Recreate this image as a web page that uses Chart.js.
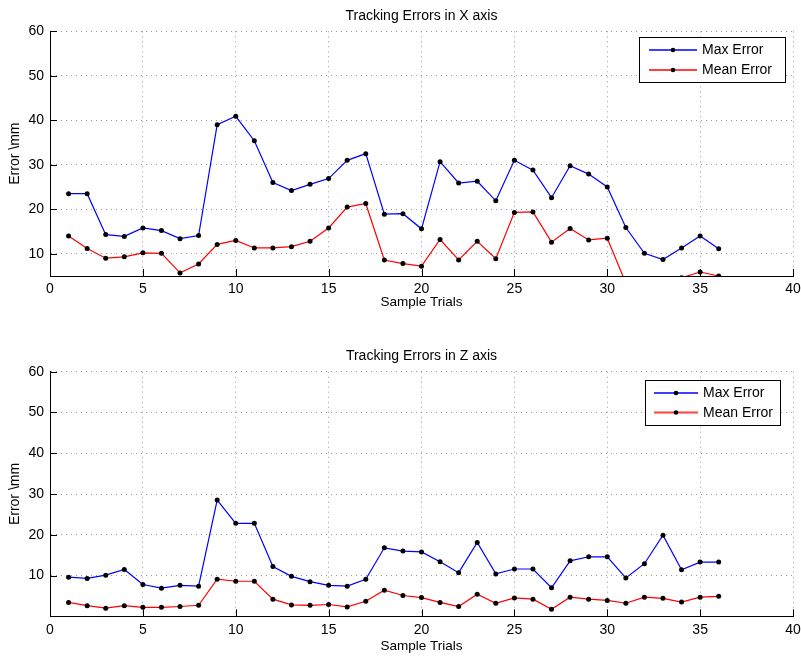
<!DOCTYPE html>
<html>
<head>
<meta charset="utf-8">
<script src="https://cdn.jsdelivr.net/npm/chart.js@4/dist/chart.umd.min.js"></script>
<style>
  html, body { margin: 0; padding: 0; background: #fff; }
  canvas { display: block; }
</style>
</head>
<body>
<canvas id="chart-x" width="801" height="328"></canvas>
<canvas id="chart-z" width="801" height="328"></canvas>
<script>
const trials = [1, 2, 3, 4, 5, 6, 7, 8, 9, 10, 11, 12, 13, 14, 15, 16, 17, 18,
  19, 20, 21, 22, 23, 24, 25, 26, 27, 28, 29, 30, 31, 32, 33, 34, 35, 36];

const maxErrX = [23.5, 23.5, 14.3, 13.9, 15.8, 15.2, 13.4, 14.1, 39.0, 40.9, 35.4, 26.0,
  24.2, 25.6, 26.9, 31.0, 32.5, 18.9, 19.0, 15.6, 30.7, 25.9, 26.3, 21.9,
  31.0, 28.8, 22.6, 29.8, 27.9, 25.0, 15.9, 10.1, 8.7, 11.3, 14.0, 11.1];
const meanErrX = [14.0, 11.2, 9.0, 9.3, 10.2, 10.1, 5.7, 7.7, 12.1, 13.0, 11.3, 11.3,
  11.6, 12.8, 15.8, 20.5, 21.3, 8.6, 7.8, 7.2, 13.2, 8.6, 12.8, 8.9,
  19.3, 19.4, 12.6, 15.7, 13.1, 13.5, 3.4, 3.0, 2.9, 4.6, 5.9, 5.0];

const maxErrZ = [9.6, 9.3, 10.1, 11.5, 7.8, 6.9, 7.6, 7.4, 28.5, 22.8, 22.8, 12.2,
  9.8, 8.5, 7.6, 7.4, 9.1, 16.8, 16.0, 15.8, 13.4, 10.7, 18.1, 10.4,
  11.6, 11.6, 7.0, 13.6, 14.6, 14.6, 9.4, 12.9, 19.9, 11.4, 13.3, 13.3];
const meanErrZ = [3.4, 2.6, 2.0, 2.6, 2.2, 2.2, 2.4, 2.7, 9.1, 8.6, 8.6, 4.2,
  2.8, 2.7, 2.9, 2.3, 3.7, 6.4, 5.1, 4.6, 3.4, 2.4, 5.4, 3.2,
  4.5, 4.2, 1.7, 4.7, 4.2, 3.9, 3.2, 4.7, 4.4, 3.5, 4.7, 4.9];

const seriesNames = ['Max Error', 'Mean Error'];
const seriesColors = ['#0000ff', '#ff0000'];
const xTicks = [0, 5, 10, 15, 20, 25, 30, 35, 40];
const yTicks = [10, 20, 30, 40, 50, 60];

Chart.defaults.font.family = '"Liberation Sans", Arial, Helvetica, sans-serif';
Chart.defaults.color = '#000';

const points = (ys) => trials.map((t, i) => ({ x: t, y: ys[i] }));

// inward tick marks on the left and bottom axes, like the original figure
const inwardTicks = {
  id: 'inwardTicks',
  afterDraw(chart) {
    const { ctx, chartArea: a, scales: { x, y } } = chart;
    ctx.save();
    ctx.strokeStyle = '#000';
    ctx.lineWidth = 1;
    ctx.beginPath();
    x.ticks.forEach(t => {
      const px = Math.round(x.getPixelForValue(t.value)) + 0.5;
      ctx.moveTo(px, a.bottom);
      ctx.lineTo(px, a.bottom - 7);
    });
    y.ticks.forEach(t => {
      const py = Math.round(y.getPixelForValue(t.value)) + 0.5;
      ctx.moveTo(a.left, py);
      ctx.lineTo(a.left + 7, py);
    });
    ctx.stroke();
    ctx.restore();
  },
};

// boxed legend with line + marker samples
const boxLegend = {
  id: 'boxLegend',
  afterDraw(chart, args, o) {
    const { ctx } = chart;
    ctx.save();
    ctx.fillStyle = '#fff';
    ctx.fillRect(o.x, o.y, o.w, o.h);
    ctx.strokeStyle = '#000';
    ctx.lineWidth = 1;
    ctx.strokeRect(Math.round(o.x) + 0.5, Math.round(o.y) + 0.5, Math.round(o.w), Math.round(o.h));
    ctx.font = '14px "Liberation Sans", Arial, sans-serif';
    ctx.textBaseline = 'middle';
    chart.data.datasets.forEach((ds, i) => {
      const ry = o.y + o.row0 + i * o.rowGap;
      ctx.strokeStyle = ds.borderColor;
      ctx.globalAlpha = 0.75;
      ctx.lineWidth = 2;
      ctx.beginPath();
      ctx.moveTo(o.lineFrom, ry);
      ctx.lineTo(o.lineTo, ry);
      ctx.stroke();
      ctx.globalAlpha = 1;
      ctx.fillStyle = '#000';
      ctx.beginPath();
      ctx.arc((o.lineFrom + o.lineTo) / 2, ry, 2.3, 0, Math.PI * 2);
      ctx.fill();
      ctx.fillText(ds.label, o.textX, ry + 0.5);
    });
    ctx.restore();
  },
};

function makeChart(id, title, maxData, meanData, yMin, cfg) {
  const grid = {
    lineWidth: 1,
    drawTicks: false,
  };
  return new Chart(document.getElementById(id), {
    type: 'line',
    data: {
      datasets: [
        { label: seriesNames[0], data: points(maxData), borderColor: seriesColors[0] },
        { label: seriesNames[1], data: points(meanData), borderColor: seriesColors[1] },
      ].map(ds => Object.assign(ds, {
        borderWidth: 1.2,
        pointRadius: 2.5,
        pointBorderWidth: 0,
        pointBackgroundColor: '#000',
        pointBorderColor: '#000',
        tension: 0,
        fill: false,
      })),
    },
    options: {
      responsive: false,
      animation: false,
      events: [],
      layout: { padding: { left: 0, right: 0, top: 0, bottom: 0 } },
      plugins: {
        legend: { display: false },
        tooltip: { enabled: false },
        title: {
          display: true,
          fullSize: false,
          text: title,
          font: { size: 14, weight: 'normal' },
          color: '#000',
          padding: { top: cfg.titleTop, bottom: cfg.titleBottom },
        },
        boxLegend: cfg.legend,
      },
      scales: {
        x: {
          type: 'linear',
          min: 0,
          max: 40,
          afterBuildTicks: s => { s.ticks = xTicks.map(v => ({ value: v })); },
          afterFit: s => { s.height = cfg.xHeight; s.paddingRight = 8; },
          ticks: { font: { size: 14 }, padding: 5, color: '#000', maxRotation: 0 },
          grid: Object.assign({}, grid, {
            color: c => (c.tick && c.tick.value === 0 ? 'rgba(0,0,0,0)' : '#9a9a9a'),
          }),
          border: { display: true, color: '#000', width: 1, dash: [1, 4] },
          title: {
            display: true,
            text: 'Sample Trials',
            font: { size: 13.5 },
            color: '#000',
            padding: { top: 0, bottom: cfg.xTitlePad },
          },
        },
        y: {
          type: 'linear',
          min: yMin,
          max: 60,
          afterBuildTicks: s => { s.ticks = yTicks.map(v => ({ value: v })); },
          afterFit: s => { s.width = 50; },
          ticks: { font: { size: 14 }, padding: 6, color: '#000' },
          grid: Object.assign({}, grid, {
            color: c => (c.tick && c.tick.value === yMin ? 'rgba(0,0,0,0)' : '#9a9a9a'),
          }),
          border: { display: true, color: '#000', width: 1, dash: [1, 4] },
          title: {
            display: true,
            text: 'Error \\mm',
            font: { size: 14 },
            color: '#000',
            padding: { top: 7, bottom: 0 },
          },
        },
      },
    },
    plugins: [inwardTicks, boxLegend],
  });
}

makeChart('chart-x', 'Tracking Errors in X axis', maxErrX, meanErrX, 5, {
  titleTop: 7.4,
  titleBottom: 7.1,
  xHeight: 52,
  xTitlePad: 18,
  legend: { x: 639, y: 37, w: 146, h: 45, row0: 13, rowGap: 20, lineFrom: 649, lineTo: 697, textX: 702 },
});

makeChart('chart-z', 'Tracking Errors in Z axis', maxErrZ, meanErrZ, 0, {
  titleTop: 19.4,
  titleBottom: 7.5,
  xHeight: 39.7,
  xTitlePad: 2,
  legend: { x: 645, y: 52, w: 135, h: 45, row0: 13, rowGap: 19.5, lineFrom: 654, lineTo: 698, textX: 703 },
});
</script>
</body>
</html>
